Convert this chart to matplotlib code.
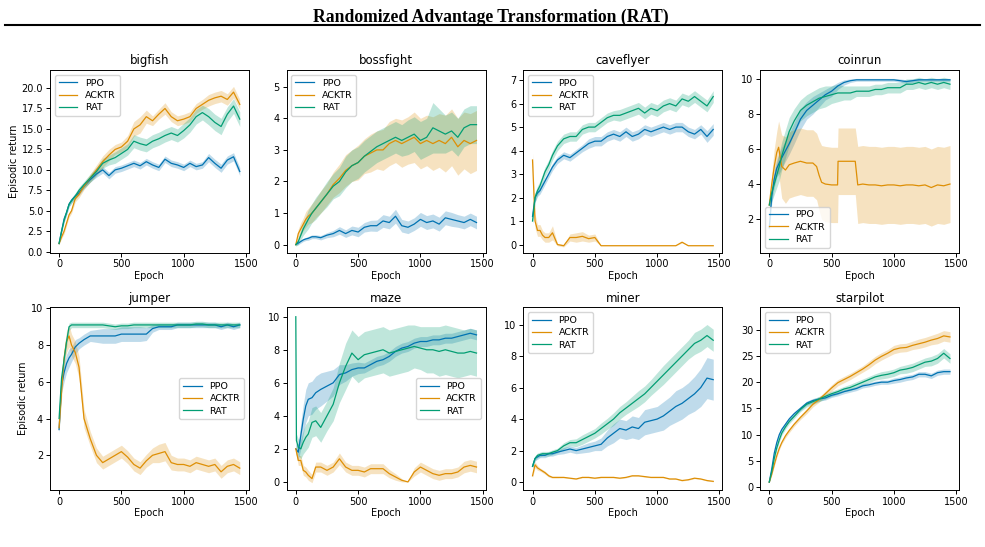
import numpy as np
import matplotlib
matplotlib.use('Agg')
import matplotlib.pyplot as plt
from matplotlib.lines import Line2D

# epochs shared by most curves
epochs = [0, 20, 40, 60, 80, 100, 130, 160, 200, 250, 300, 350, 400, 450, 500, 550, 600, 650,
          700, 750, 800, 850, 900, 950, 1000, 1050, 1100, 1150, 1200, 1250, 1300, 1350, 1400, 1450]

# bigfish
bigfish_ppo = [1.0, 2.5, 4.0, 4.8, 5.8, 6.3, 6.8, 7.2, 8.0, 8.8, 9.5, 10.0, 9.3, 10.0, 10.2, 10.5, 10.8, 10.5,
               11.0, 10.6, 10.3, 11.3, 10.8, 10.6, 10.3, 10.8, 10.4, 10.6, 11.5, 10.8, 10.2, 11.2, 11.6, 9.8]
bigfish_ppo_sd = [0.1, 0.2, 0.3, 0.3, 0.3, 0.3, 0.3, 0.3, 0.3, 0.3, 0.4, 0.4, 0.4, 0.4, 0.4, 0.4, 0.4, 0.4,
                  0.4, 0.4, 0.4, 0.4, 0.4, 0.4, 0.4, 0.4, 0.4, 0.4, 0.5, 0.5, 0.5, 0.5, 0.5, 0.5]
bigfish_acktr = [1.0, 1.8, 2.5, 3.5, 4.5, 5.0, 6.5, 7.0, 8.0, 9.0, 10.0, 11.0, 11.8, 12.5, 12.8, 13.5, 15.0, 15.5,
                 16.5, 16.0, 16.8, 17.5, 16.5, 16.0, 16.2, 16.5, 17.5, 18.0, 18.5, 18.8, 19.0, 18.6, 19.5, 18.0]
bigfish_acktr_sd = [0.1, 0.2, 0.3, 0.3, 0.3, 0.3, 0.4, 0.4, 0.4, 0.5, 0.6, 0.7, 0.7, 0.6, 0.6, 0.7, 0.9, 1.0,
                    0.8, 0.6, 0.6, 0.7, 0.6, 0.6, 0.6, 0.6, 0.6, 0.6, 0.7, 0.7, 0.7, 0.7, 0.7, 0.6]
bigfish_rat = [1.0, 2.5, 3.8, 4.8, 5.8, 6.2, 6.8, 7.5, 8.2, 9.0, 9.8, 10.8, 11.2, 11.5, 12.0, 12.5, 13.5, 13.2,
               13.0, 13.5, 13.8, 14.2, 14.5, 14.2, 14.8, 15.5, 16.5, 17.0, 16.5, 15.8, 15.3, 16.8, 17.8, 16.2]
bigfish_rat_sd = [0.1, 0.2, 0.3, 0.3, 0.3, 0.3, 0.4, 0.4, 0.4, 0.5, 0.5, 0.6, 0.6, 0.7, 0.7, 0.7, 0.8, 0.8,
                  0.8, 0.8, 0.8, 0.8, 0.8, 0.8, 0.9, 0.9, 0.9, 0.9, 1.0, 1.0, 1.0, 0.9, 0.9, 0.9]

# bossfight
bossfight_ppo = [0.0, 0.05, 0.1, 0.15, 0.18, 0.2, 0.25, 0.25, 0.22, 0.3, 0.35, 0.45, 0.35, 0.45, 0.4, 0.55, 0.6, 0.6,
                 0.75, 0.7, 0.9, 0.6, 0.55, 0.65, 0.8, 0.7, 0.75, 0.65, 0.85, 0.8, 0.75, 0.7, 0.8, 0.7]
bossfight_ppo_sd = [0.02, 0.05, 0.05, 0.05, 0.05, 0.06, 0.06, 0.06, 0.07, 0.08, 0.1, 0.12, 0.12, 0.14, 0.15, 0.15, 0.17, 0.18,
                    0.2, 0.2, 0.22, 0.2, 0.2, 0.2, 0.22, 0.22, 0.22, 0.22, 0.22, 0.22, 0.2, 0.2, 0.2, 0.2]
bossfight_acktr = [0.0, 0.35, 0.5, 0.65, 0.8, 0.9, 1.0, 1.15, 1.35, 1.6, 1.9, 2.1, 2.35, 2.5, 2.6, 2.8, 2.9, 3.0,
                   3.0, 3.2, 3.3, 3.2, 3.3, 3.4, 3.2, 3.3, 3.2, 3.3, 3.2, 3.4, 3.1, 3.3, 3.2, 3.3]
bossfight_acktr_sd = [0.05, 0.15, 0.2, 0.2, 0.25, 0.25, 0.3, 0.3, 0.35, 0.35, 0.4, 0.45, 0.5, 0.5, 0.55, 0.55, 0.6, 0.6,
                      0.65, 0.7, 0.7, 0.75, 0.75, 0.8, 0.8, 0.8, 0.85, 0.85, 0.9, 0.9, 0.9, 0.9, 0.95, 0.95]
bossfight_rat = [0.0, 0.1, 0.3, 0.5, 0.65, 0.8, 1.0, 1.15, 1.35, 1.6, 1.85, 2.0, 2.3, 2.5, 2.6, 2.8, 2.95, 3.1,
                 3.2, 3.3, 3.4, 3.3, 3.4, 3.5, 3.3, 3.4, 3.7, 3.6, 3.5, 3.6, 3.4, 3.7, 3.8, 3.8]
bossfight_rat_sd = [0.05, 0.1, 0.15, 0.2, 0.25, 0.3, 0.3, 0.35, 0.35, 0.4, 0.4, 0.45, 0.5, 0.5, 0.5, 0.5, 0.5, 0.5,
                    0.5, 0.5, 0.5, 0.5, 0.55, 0.55, 0.6, 0.6, 0.8, 0.7, 0.6, 0.6, 0.6, 0.6, 0.6, 0.6]

# caveflyer
caveflyer_ppo = [1.2, 2.0, 2.2, 2.3, 2.5, 2.7, 3.0, 3.3, 3.6, 3.8, 3.7, 3.9, 4.1, 4.3, 4.4, 4.4, 4.6, 4.7,
                 4.6, 4.8, 4.6, 4.7, 4.9, 4.8, 4.9, 5.0, 4.9, 5.0, 5.0, 4.8, 4.7, 4.9, 4.6, 4.9]
caveflyer_ppo_sd = [0.3, 0.2, 0.15, 0.15, 0.15, 0.15, 0.15, 0.15, 0.15, 0.15, 0.15, 0.15, 0.15, 0.2, 0.2, 0.2, 0.2, 0.2,
                    0.2, 0.2, 0.2, 0.2, 0.2, 0.2, 0.2, 0.2, 0.2, 0.2, 0.2, 0.2, 0.2, 0.2, 0.25, 0.25]
caveflyer_acktr = [3.6, 1.0, 0.6, 0.6, 0.4, 0.3, 0.3, 0.5, 0.0, -0.05, 0.3, 0.3, 0.35, 0.25, 0.3, -0.05, -0.05, -0.05,
                   -0.05, -0.05, -0.05, -0.05, -0.05, -0.05, -0.05, -0.05, -0.05, -0.05, 0.1, -0.05, -0.05, -0.05, -0.05, -0.05]
caveflyer_acktr_sd = [0.3, 0.3, 0.25, 0.25, 0.2, 0.2, 0.2, 0.3, 0.05, 0.05, 0.15, 0.2, 0.2, 0.15, 0.15, 0.0, 0.0, 0.0,
                      0.0, 0.0, 0.0, 0.0, 0.0, 0.0, 0.0, 0.0, 0.0, 0.0, 0.03, 0.0, 0.0, 0.0, 0.0, 0.0]
caveflyer_rat = [1.0, 2.0, 2.3, 2.5, 2.8, 3.1, 3.4, 3.8, 4.2, 4.5, 4.6, 4.6, 4.9, 5.0, 5.0, 5.2, 5.4, 5.5,
                 5.5, 5.6, 5.7, 5.8, 5.6, 5.8, 5.7, 5.9, 6.0, 5.9, 6.2, 6.1, 6.3, 6.1, 5.9, 6.3]
caveflyer_rat_sd = [0.1, 0.2, 0.2, 0.2, 0.2, 0.2, 0.2, 0.2, 0.2, 0.2, 0.2, 0.2, 0.2, 0.2, 0.2, 0.2, 0.2, 0.2,
                    0.25, 0.25, 0.25, 0.25, 0.25, 0.25, 0.25, 0.25, 0.25, 0.25, 0.25, 0.25, 0.25, 0.25, 0.25, 0.25]

# coinrun
coinrun_ppo = [1.5, 3.3, 4.3, 4.9, 5.2, 5.5, 5.9, 6.3, 6.9, 7.7, 8.2, 8.5, 8.8, 9.1, 9.3, 9.6, 9.8, 9.9,
               9.95, 9.95, 9.95, 9.95, 9.95, 9.95, 9.95, 9.9, 9.85, 9.9, 9.95, 9.95, 9.95, 9.95, 9.95, 9.95]
coinrun_ppo_sd = [0.3, 0.4, 0.5, 0.5, 0.6, 0.6, 0.6, 0.6, 0.6, 0.6, 0.5, 0.5, 0.4, 0.3, 0.3, 0.2, 0.15, 0.1,
                  0.08, 0.08, 0.08, 0.08, 0.08, 0.08, 0.08, 0.1, 0.1, 0.1, 0.08, 0.08, 0.08, 0.08, 0.08, 0.08]
coinrun_acktr_x = [0, 20, 40, 60, 75, 100, 130, 160, 200, 250, 300, 350, 380, 400, 420, 450, 500, 548, 552,
                   600, 650, 690, 710, 750, 800, 850, 900, 950, 1000, 1050, 1100, 1150, 1200, 1250, 1300, 1350, 1400, 1450]
coinrun_acktr = [2.8, 4.0, 5.0, 5.8, 6.1, 5.0, 4.8, 5.1, 5.2, 5.3, 5.2, 5.2, 5.0, 4.5, 4.1, 4.0, 3.95, 3.95, 5.3,
                 5.3, 5.3, 5.3, 3.95, 4.0, 3.95, 3.95, 3.9, 3.95, 3.95, 3.9, 3.95, 3.95, 3.9, 3.95, 3.8, 3.95, 3.9, 4.0]
coinrun_acktr_sd = [0.2, 0.6, 1.0, 1.2, 1.5, 1.8, 1.9, 1.9, 1.9, 1.9, 1.9, 1.9, 1.9, 2.0, 2.1, 2.15, 2.15, 2.15, 1.9,
                    1.9, 1.9, 1.9, 2.2, 2.2, 2.2, 2.2, 2.2, 2.2, 2.2, 2.2, 2.2, 2.2, 2.2, 2.2, 2.2, 2.2, 2.2, 2.2]
coinrun_rat = [2.8, 3.5, 4.0, 4.5, 5.0, 5.6, 6.3, 7.0, 7.6, 8.2, 8.5, 8.7, 8.9, 9.0, 9.1, 9.2, 9.2, 9.2,
               9.3, 9.3, 9.3, 9.4, 9.4, 9.5, 9.5, 9.5, 9.7, 9.7, 9.8, 9.7, 9.8, 9.7, 9.8, 9.7]
coinrun_rat_sd = [0.3, 0.5, 0.6, 0.7, 0.8, 0.8, 0.8, 0.8, 0.7, 0.6, 0.6, 0.6, 0.6, 0.6, 0.5, 0.5, 0.4, 0.4,
                  0.3, 0.3, 0.3, 0.3, 0.3, 0.3, 0.3, 0.3, 0.3, 0.3, 0.3, 0.3, 0.3, 0.3, 0.3, 0.3]

# jumper
jumper_ppo = [3.4, 5.8, 6.5, 7.0, 7.3, 7.5, 7.9, 8.1, 8.3, 8.5, 8.5, 8.5, 8.5, 8.5, 8.6, 8.6, 8.6, 8.6,
              8.6, 8.9, 9.0, 9.0, 9.0, 9.1, 9.1, 9.1, 9.1, 9.1, 9.1, 9.1, 9.0, 9.1, 9.0, 9.1]
jumper_ppo_sd = [0.2, 0.4, 0.5, 0.5, 0.5, 0.4, 0.4, 0.3, 0.3, 0.3, 0.35, 0.4, 0.4, 0.4, 0.4, 0.4, 0.4, 0.4,
                 0.35, 0.2, 0.15, 0.15, 0.15, 0.15, 0.15, 0.15, 0.15, 0.15, 0.15, 0.15, 0.15, 0.15, 0.15, 0.15]
jumper_acktr = [3.5, 5.5, 7.3, 8.2, 8.5, 8.0, 7.6, 6.8, 4.0, 2.9, 2.0, 1.6, 1.8, 2.0, 2.2, 1.9, 1.5, 1.3,
                1.7, 2.0, 2.1, 2.2, 1.6, 1.5, 1.5, 1.4, 1.6, 1.5, 1.4, 1.5, 1.1, 1.4, 1.5, 1.3]
jumper_acktr_sd = [0.2, 0.4, 0.5, 0.6, 0.6, 0.6, 0.6, 0.6, 0.5, 0.4, 0.4, 0.35, 0.35, 0.35, 0.35, 0.35, 0.35, 0.35,
                   0.35, 0.4, 0.5, 0.5, 0.4, 0.35, 0.35, 0.35, 0.35, 0.35, 0.35, 0.35, 0.35, 0.35, 0.35, 0.35]
jumper_rat = [4.0, 6.2, 7.2, 8.2, 9.0, 9.1, 9.1, 9.1, 9.1, 9.1, 9.1, 9.1, 9.05, 9.0, 9.05, 9.05, 9.1, 9.1,
              9.1, 9.1, 9.1, 9.1, 9.1, 9.1, 9.1, 9.1, 9.15, 9.15, 9.1, 9.1, 9.1, 9.1, 9.1, 9.1]
jumper_rat_sd = [0.2, 0.3, 0.3, 0.3, 0.2, 0.15, 0.15, 0.15, 0.15, 0.15, 0.15, 0.15, 0.15, 0.15, 0.15, 0.15, 0.15, 0.15,
                 0.15, 0.15, 0.15, 0.15, 0.15, 0.15, 0.15, 0.15, 0.15, 0.15, 0.15, 0.15, 0.15, 0.15, 0.15, 0.15]

# maze
maze_ppo = [2.0, 1.8, 2.8, 3.8, 4.6, 5.0, 5.1, 5.4, 5.6, 5.8, 6.0, 6.5, 6.6, 6.8, 6.9, 6.9, 7.1, 7.3,
            7.4, 7.6, 7.9, 8.1, 8.2, 8.4, 8.5, 8.5, 8.6, 8.6, 8.7, 8.7, 8.8, 8.9, 9.0, 8.9]
maze_ppo_sd = [0.3, 0.5, 0.8, 0.9, 1.0, 1.0, 1.0, 1.0, 1.0, 0.9, 0.8, 0.6, 0.5, 0.4, 0.35, 0.3, 0.3, 0.3,
               0.3, 0.3, 0.3, 0.3, 0.3, 0.3, 0.3, 0.3, 0.3, 0.3, 0.3, 0.3, 0.3, 0.3, 0.3, 0.3]
maze_acktr = [2.0, 1.3, 1.3, 0.7, 0.6, 0.4, 0.2, 0.9, 0.9, 0.7, 0.9, 1.4, 0.9, 0.7, 0.7, 0.6, 0.8, 0.8,
              0.8, 0.5, 0.3, 0.1, 0.0, 0.6, 0.9, 0.7, 0.5, 0.4, 0.5, 0.5, 0.6, 0.9, 1.0, 0.9]
maze_acktr_sd = [0.2, 0.3, 0.3, 0.3, 0.3, 0.3, 0.25, 0.3, 0.3, 0.3, 0.3, 0.35, 0.3, 0.3, 0.3, 0.3, 0.3, 0.3,
                 0.3, 0.25, 0.2, 0.1, 0.0, 0.25, 0.3, 0.3, 0.3, 0.3, 0.3, 0.3, 0.3, 0.35, 0.35, 0.35]
maze_rat_x = [0, 5, 20, 40, 60, 80, 100, 130, 160, 200, 250, 300, 350, 400, 450, 500, 550, 600, 650,
              700, 750, 800, 850, 900, 950, 1000, 1050, 1100, 1150, 1200, 1250, 1300, 1350, 1400, 1450]
maze_rat = [10.0, 2.5, 2.1, 2.0, 2.4, 2.7, 2.9, 3.6, 3.7, 3.3, 4.0, 4.7, 6.0, 7.0, 7.8, 7.4, 7.7, 7.8, 7.9,
            8.0, 7.8, 7.9, 8.0, 8.1, 8.2, 8.1, 8.0, 8.0, 7.9, 8.0, 7.9, 7.8, 7.8, 7.9, 7.8]
maze_rat_sd = [0.0, 0.4, 0.5, 0.6, 0.7, 0.8, 0.8, 0.9, 0.9, 0.9, 0.9, 1.0, 1.2, 1.4, 1.4, 1.4, 1.4, 1.4, 1.4,
               1.4, 1.4, 1.4, 1.4, 1.4, 1.3, 1.3, 1.4, 1.4, 1.5, 1.5, 1.5, 1.5, 1.4, 1.4, 1.4]

# miner
miner_ppo = [1.0, 1.5, 1.6, 1.7, 1.7, 1.7, 1.8, 1.8, 1.9, 2.0, 2.1, 2.0, 2.1, 2.2, 2.3, 2.4, 2.8, 3.1,
             3.4, 3.3, 3.5, 3.4, 3.8, 3.9, 4.0, 4.2, 4.5, 4.8, 5.0, 5.3, 5.6, 6.0, 6.6, 6.5]
miner_ppo_sd = [0.1, 0.15, 0.15, 0.15, 0.15, 0.15, 0.15, 0.15, 0.15, 0.2, 0.2, 0.2, 0.25, 0.3, 0.3, 0.4, 0.5, 0.6,
                0.6, 0.6, 0.7, 0.7, 0.8, 0.8, 0.8, 0.9, 0.9, 1.0, 1.0, 1.0, 1.1, 1.2, 1.3, 1.3]
miner_acktr = [0.4, 1.1, 0.9, 0.8, 0.7, 0.6, 0.4, 0.3, 0.3, 0.3, 0.25, 0.2, 0.3, 0.3, 0.25, 0.3, 0.3, 0.3,
               0.25, 0.3, 0.4, 0.4, 0.35, 0.3, 0.3, 0.3, 0.2, 0.2, 0.1, 0.15, 0.25, 0.2, 0.1, 0.05]
miner_acktr_sd = [0.1, 0.2, 0.15, 0.1, 0.1, 0.1, 0.08, 0.05, 0.05, 0.03, 0.03, 0.03, 0.03, 0.03, 0.03, 0.03, 0.03, 0.03,
                  0.03, 0.03, 0.03, 0.03, 0.03, 0.03, 0.03, 0.03, 0.03, 0.03, 0.03, 0.03, 0.03, 0.03, 0.03, 0.03]
miner_rat = [1.0, 1.5, 1.7, 1.75, 1.8, 1.8, 1.8, 1.9, 2.0, 2.3, 2.5, 2.5, 2.7, 2.9, 3.1, 3.4, 3.7, 4.0,
             4.4, 4.7, 5.0, 5.3, 5.6, 6.0, 6.4, 6.8, 7.2, 7.6, 8.0, 8.4, 8.8, 9.0, 9.3, 9.0]
miner_rat_sd = [0.1, 0.15, 0.15, 0.15, 0.15, 0.15, 0.15, 0.15, 0.15, 0.2, 0.2, 0.25, 0.3, 0.3, 0.3, 0.35, 0.35, 0.4,
                0.4, 0.4, 0.45, 0.5, 0.5, 0.5, 0.55, 0.6, 0.6, 0.6, 0.6, 0.6, 0.7, 0.7, 0.7, 0.7]

# starpilot
starpilot_ppo = [1.0, 3.5, 6.5, 8.5, 10.0, 11.0, 12.0, 13.0, 14.0, 15.0, 16.0, 16.5, 16.8, 17.0, 17.5, 17.8, 18.2, 18.5,
                 18.8, 19.3, 19.5, 19.8, 20.0, 20.0, 20.3, 20.5, 20.8, 21.0, 21.5, 21.5, 21.2, 21.8, 22.0, 22.0]
starpilot_ppo_sd = [0.1, 0.3, 0.4, 0.4, 0.4, 0.4, 0.4, 0.4, 0.4, 0.4, 0.4, 0.4, 0.4, 0.4, 0.4, 0.4, 0.4, 0.4,
                    0.4, 0.4, 0.4, 0.4, 0.4, 0.4, 0.5, 0.5, 0.5, 0.5, 0.5, 0.5, 0.5, 0.5, 0.5, 0.5]
starpilot_acktr = [1.0, 2.5, 4.3, 6.0, 7.4, 8.5, 9.8, 10.8, 12.0, 13.3, 14.5, 15.8, 16.7, 17.8, 18.9, 19.9, 20.5, 21.1,
                   21.8, 22.5, 23.3, 24.2, 24.9, 25.5, 26.2, 26.5, 26.6, 27.0, 27.3, 27.6, 28.0, 28.3, 28.8, 28.6]
starpilot_acktr_sd = [0.1, 0.2, 0.3, 0.3, 0.3, 0.3, 0.4, 0.4, 0.4, 0.4, 0.5, 0.5, 0.5, 0.5, 0.6, 0.6, 0.6, 0.6,
                      0.6, 0.6, 0.7, 0.7, 0.7, 0.7, 0.8, 0.8, 0.8, 0.8, 0.9, 0.9, 0.9, 1.0, 1.0, 1.0]
starpilot_rat = [1.0, 3.0, 5.5, 7.5, 9.0, 10.3, 11.5, 12.5, 13.5, 14.8, 15.8, 16.3, 16.8, 17.3, 17.8, 18.2, 18.7, 19.0,
                 19.5, 20.0, 20.5, 21.0, 21.3, 21.5, 21.8, 22.3, 22.5, 22.8, 23.3, 23.8, 24.0, 24.5, 25.5, 24.5]
starpilot_rat_sd = [0.1, 0.3, 0.4, 0.4, 0.4, 0.4, 0.4, 0.4, 0.4, 0.4, 0.5, 0.5, 0.5, 0.5, 0.5, 0.5, 0.5, 0.6,
                    0.6, 0.6, 0.6, 0.6, 0.7, 0.7, 0.7, 0.7, 0.8, 0.8, 0.8, 0.8, 0.9, 0.9, 0.9, 0.9]

algos = ['PPO', 'ACKTR', 'RAT']
colors = ['#0173b2', '#de8f05', '#029e73']

# (title, [(x, mean, sd) per algo], ylim, yticks, legend loc)
panels = [
    ('bigfish', [(epochs, bigfish_ppo, bigfish_ppo_sd), (epochs, bigfish_acktr, bigfish_acktr_sd),
                 (epochs, bigfish_rat, bigfish_rat_sd)],
     (-0.1, 22.2), [0, 2.5, 5, 7.5, 10, 12.5, 15, 17.5, 20], 'upper left'),
    ('bossfight', [(epochs, bossfight_ppo, bossfight_ppo_sd), (epochs, bossfight_acktr, bossfight_acktr_sd),
                   (epochs, bossfight_rat, bossfight_rat_sd)],
     (-0.25, 5.53), [0, 1, 2, 3, 4, 5], 'upper left'),
    ('caveflyer', [(epochs, caveflyer_ppo, caveflyer_ppo_sd), (epochs, caveflyer_acktr, caveflyer_acktr_sd),
                   (epochs, caveflyer_rat, caveflyer_rat_sd)],
     (-0.34, 7.43), [0, 1, 2, 3, 4, 5, 6, 7], 'upper left'),
    ('coinrun', [(epochs, coinrun_ppo, coinrun_ppo_sd), (coinrun_acktr_x, coinrun_acktr, coinrun_acktr_sd),
                 (epochs, coinrun_rat, coinrun_rat_sd)],
     (0.09, 10.51), [2, 4, 6, 8, 10], 'lower left'),
    ('jumper', [(epochs, jumper_ppo, jumper_ppo_sd), (epochs, jumper_acktr, jumper_acktr_sd),
                (epochs, jumper_rat, jumper_rat_sd)],
     (0.11, 10.05), [2, 4, 6, 8, 10], 'center right'),
    ('maze', [(epochs, maze_ppo, maze_ppo_sd), (epochs, maze_acktr, maze_acktr_sd),
              (maze_rat_x, maze_rat, maze_rat_sd)],
     (-0.49, 10.56), [0, 2, 4, 6, 8, 10], 'center right'),
    ('miner', [(epochs, miner_ppo, miner_ppo_sd), (epochs, miner_acktr, miner_acktr_sd),
               (epochs, miner_rat, miner_rat_sd)],
     (-0.5, 11.08), [0, 2, 4, 6, 8, 10], 'upper left'),
    ('starpilot', [(epochs, starpilot_ppo, starpilot_ppo_sd), (epochs, starpilot_acktr, starpilot_acktr_sd),
                   (epochs, starpilot_rat, starpilot_rat_sd)],
     (-0.5, 34.2), [0, 5, 10, 15, 20, 25, 30], 'upper left'),
]

fig, axes = plt.subplots(2, 4, figsize=(9.85, 5.47), dpi=100)
fig.subplots_adjust(left=0.0508, right=0.9736, top=0.872, bottom=0.1042, wspace=0.191, hspace=0.301)

for i, (name, series, ylim, yticks, loc) in enumerate(panels):
    ax = axes.flat[i]
    for (x, m, sd), label, c in zip(series, algos, colors):
        x = np.asarray(x)
        m = np.asarray(m)
        sd = np.asarray(sd)
        ax.fill_between(x, m - sd, m + sd, color=c, alpha=0.25, linewidth=0)
        ax.plot(x, m, color=c, lw=0.9, label=label)
    ax.set_title(name, fontsize=8.5, pad=4)
    ax.set_ylim(*ylim)
    ax.set_yticks(yticks)
    if name == 'bigfish':
        ax.set_yticklabels(['%.1f' % v for v in yticks])
    ax.set_xticks([0, 500, 1000, 1500])
    ax.tick_params(labelsize=7, length=3, width=0.7, pad=2)
    ax.set_xlabel('Epoch', fontsize=7, labelpad=1)
    if i % 4 == 0:
        ax.set_ylabel('Episodic return', fontsize=7, labelpad=2)
    for s in ax.spines.values():
        s.set_linewidth(0.7)
    ax.legend(loc=loc, fontsize=6.8, handlelength=2.0, borderpad=0.4, labelspacing=0.35)

fig.suptitle('Randomized Advantage Transformation (RAT)', x=0.498, y=0.985, fontsize=12.7,
             fontweight='bold', family='Liberation Serif', va='top')
fig.add_artist(Line2D([0.005, 0.995], [0.954, 0.954], color='black', lw=1.5, transform=fig.transFigure))

fig.savefig('out.png', dpi=100)
